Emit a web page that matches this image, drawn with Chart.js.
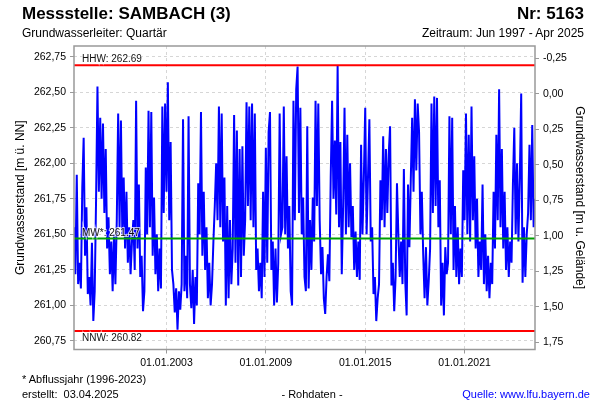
<!DOCTYPE html>
<html lang="de">
<head>
<meta charset="utf-8">
<title>Messstelle: SAMBACH (3)</title>
<script src="https://cdn.jsdelivr.net/npm/chart.js@4.4.1/dist/chart.umd.min.js"></script>
<style>
  body { margin: 0; background: #fff; font-family: "Liberation Sans", Arial, sans-serif; color: #000; }
  #wrap { position: relative; width: 600px; height: 400px; }
  #wrap canvas { position: absolute; left: 0; top: 0; }
  .txt { position: absolute; white-space: pre; line-height: 1; }
  .head { top: 5px; font-size: 17px; font-weight: bold; }
  .sub { top: 26.5px; font-size: 12px; }
  .foot { font-size: 11px; }
</style>
</head>
<body>
<div id="wrap">
  <canvas id="levelChart" width="600" height="400"></canvas>
  <div class="txt head" style="left: 22px;">Messstelle: SAMBACH (3)</div>
  <div class="txt head" style="right: 16px;">Nr: 5163</div>
  <div class="txt sub" style="left: 22px;">Grundwasserleiter: Quartär</div>
  <div class="txt sub" style="right: 16px;">Zeitraum: Jun 1997 - Apr 2025</div>
  <div class="txt foot" style="left: 22px; top: 374px;">* Abflussjahr (1996-2023)</div>
  <div class="txt foot" style="left: 22px; top: 389px;">erstellt:  03.04.2025</div>
  <div class="txt foot" style="left: 312px; top: 389px; transform: translateX(-50%);">- Rohdaten -</div>
  <div class="txt foot" style="right: 10px; top: 389px; color: #0000ff;">Quelle: www.lfu.bayern.de</div>
</div>
<script>
// Monthly groundwater levels [m ü. NN], first value = Jun 1997
const startYear = 1997;
const startMonth = 6;
const levels = [
    261.55, 261.22, 261.92, 261.15, 261.30, 261.12, 261.83,                          // 1997
    262.18, 261.35, 261.69, 261.08, 261.20, 261.00, 261.44, 260.89, 261.10, 261.75, 262.54, 261.80, // 1998
    262.32, 261.75, 262.28, 261.65, 262.10, 261.40, 261.62, 261.22, 261.45, 261.10, 261.50, 261.15, // 1999
    261.60, 262.35, 261.55, 262.30, 261.50, 261.90, 261.40, 261.80, 261.30, 261.55, 261.22, 261.45, // 2000
    261.60, 261.25, 262.44, 261.40, 261.85, 261.20, 261.35, 260.96, 261.10, 261.97, 261.50, 262.37, // 2001
    261.55, 262.36, 261.35, 261.76, 261.22, 261.50, 261.10, 261.40, 261.12, 262.40, 261.65, 262.42, // 2002
    261.80, 262.57, 261.60, 262.15, 261.25, 261.15, 260.95, 261.12, 260.83, 261.10, 260.97, 261.15, // 2003
    262.31, 261.10, 261.35, 261.05, 262.33, 261.15, 260.98, 261.25, 260.87, 261.20, 261.00, 261.86, // 2004
    261.50, 262.36, 261.35, 261.80, 261.25, 261.55, 261.05, 261.30, 261.00, 261.15, 261.45, 261.70, // 2005
    262.00, 261.60, 262.40, 261.55, 262.35, 261.45, 261.90, 261.00, 261.70, 261.05, 261.60, 261.15, // 2006
    261.40, 262.34, 261.30, 262.23, 261.14, 262.10, 261.20, 262.12, 261.35, 261.60, 262.43, 261.70, // 2007
    262.40, 261.60, 262.42, 261.55, 262.35, 261.25, 261.40, 261.10, 261.30, 261.05, 261.80, 261.20, // 2008
    262.11, 261.30, 262.22, 262.36, 261.25, 261.45, 261.00, 261.40, 261.02, 261.30, 262.35, 261.50, // 2009
    261.55, 262.40, 261.50, 262.05, 261.40, 261.70, 261.10, 261.00, 262.44, 261.60, 262.52, 262.68, // 2010
    261.65, 262.39, 261.50, 261.76, 261.20, 261.10, 262.26, 261.12, 261.60, 261.25, 261.76, 261.45, // 2011
    262.44, 261.70, 262.42, 261.60, 261.22, 261.41, 261.05, 260.94, 261.20, 261.36, 261.17, 261.90, // 2012
    262.44, 261.75, 262.16, 261.64, 262.69, 261.55, 262.15, 261.22, 261.70, 262.39, 261.50, 262.20, // 2013
    261.55, 262.00, 261.48, 261.70, 261.25, 261.52, 261.20, 261.45, 261.18, 262.13, 261.50, 261.90, // 2014
    262.39, 261.50, 261.90, 262.31, 261.45, 261.55, 261.08, 261.20, 260.89, 261.05, 261.15, 261.88, // 2015
    261.60, 262.19, 261.55, 262.10, 261.65, 262.06, 262.26, 261.14, 261.30, 260.96, 261.20, 261.86, // 2016
    261.50, 261.20, 261.45, 261.15, 261.96, 261.17, 260.93, 261.85, 261.41, 261.88, 262.32, 261.80, // 2017
    262.45, 261.95, 262.42, 262.22, 261.50, 261.80, 261.36, 261.05, 261.41, 261.00, 261.17, 261.40, // 2018
    262.42, 261.65, 262.47, 261.70, 262.46, 261.55, 261.88, 261.00, 261.30, 260.93, 261.41, 261.22, // 2019
    261.30, 262.33, 261.50, 262.32, 261.25, 261.70, 261.20, 261.55, 261.15, 261.40, 261.20, 261.95, // 2020
    261.60, 262.35, 261.50, 262.20, 261.45, 262.40, 261.60, 262.05, 261.40, 261.75, 261.20, 261.45, // 2021
    261.25, 261.85, 261.15, 261.50, 261.10, 261.35, 261.05, 261.30, 261.15, 261.80, 261.40, 262.20, // 2022
    261.60, 262.52, 261.55, 262.10, 261.40, 261.80, 261.25, 261.55, 261.20, 261.45, 261.30, 261.85, // 2023
    262.25, 261.50, 262.00, 261.45, 261.90, 262.49, 261.16, 261.55, 261.20, 261.50, 261.65, 262.13, // 2024
    261.60, 262.27, 261.55, 261.75                                                   // 2025
];

const levelTicks = [260.75, 261.00, 261.25, 261.50, 261.75, 262.00, 262.25, 262.50, 262.75];
const depthTicks = [-0.25, 0.00, 0.25, 0.50, 0.75, 1.00, 1.25, 1.50, 1.75];
const yearTicks = [2003, 2009, 2015, 2021];

// Main values (HHW, MW*, NNW)
const refNames = ['HHW', 'MW*', 'NNW'];
const refValues = [262.69, 261.47, 260.82];

// Ground level and visible range of the level axis
const groundLevel = 262.49;
const levelMin = 260.69;
const levelMax = 262.825;

const FONT = '"Liberation Sans", Arial, sans-serif';
const gridColor = '#d6d6d6';
const frameColor = '#999999';

document.addEventListener('DOMContentLoaded', () => {
    initChart();
});

function monthToYear(i) {
    return startYear + (startMonth - 1 + i) / 12;
}

function formatDe(v) {
    return v.toFixed(2).replace('.', ',');
}

// Labels for the main values + plot frame
const refLabelPlugin = {
    id: 'refLabels',
    afterDatasetsDraw(chart) {
        const { ctx, chartArea, scales } = chart;
        ctx.save();
        ctx.font = '10px ' + FONT;
        ctx.textAlign = 'left';
        ctx.textBaseline = 'alphabetic';
        ctx.setLineDash([]);
        refNames.forEach((name, i) => {
            const y = scales.y.getPixelForValue(refValues[i]);
            const ty = name === 'NNW' ? y + 10 : y - 3;
            const text = name + ': ' + refValues[i].toFixed(2);
            ctx.strokeStyle = 'rgba(255,255,255,0.7)';
            ctx.lineWidth = 2;
            ctx.strokeText(text, chartArea.left + 8, ty);
            ctx.fillStyle = '#111';
            ctx.fillText(text, chartArea.left + 8, ty);
        });
        ctx.strokeStyle = frameColor;
        ctx.lineWidth = 1.5;
        ctx.strokeRect(chartArea.left, chartArea.top,
            chartArea.right - chartArea.left, chartArea.bottom - chartArea.top);
        ctx.restore();
    }
};

function initChart() {
    Chart.defaults.font.family = FONT;
    Chart.defaults.font.size = 10.5;
    Chart.defaults.color = '#000';

    const xStart = monthToYear(0);
    const xEnd = monthToYear(levels.length - 1);
    const points = levels.map((v, i) => ({ x: monthToYear(i), y: v }));
    const refColors = ['#ff0000', '#00a000', '#ff0000'];

    const refSets = refValues.map((v, i) => ({
        label: refNames[i],
        data: [{ x: xStart, y: v }, { x: xEnd, y: v }],
        borderColor: refColors[i],
        borderWidth: 2,
        pointRadius: 0,
        yAxisID: 'y'
    }));

    const ctx = document.getElementById('levelChart').getContext('2d');
    new Chart(ctx, {
        type: 'line',
        data: {
            datasets: [
                ...refSets,
                {
                    label: 'Grundwasserstand',
                    data: points,
                    borderColor: '#0000ff',
                    borderWidth: 2,
                    pointRadius: 0,
                    tension: 0,
                    yAxisID: 'y'
                }
            ]
        },
        options: {
            responsive: false,
            animation: false,
            devicePixelRatio: 1,
            layout: { padding: { top: 46, left: 0, right: 0, bottom: 0 } },
            plugins: {
                legend: { display: false },
                tooltip: { enabled: false }
            },
            scales: {
                x: {
                    type: 'linear',
                    min: xStart,
                    max: xEnd,
                    afterBuildTicks: s => { s.ticks = yearTicks.map(v => ({ value: v })); },
                    afterFit: s => { s.height = 50.5; },
                    ticks: { callback: v => '01.01.' + v, padding: 3, maxRotation: 0, autoSkip: false },
                    grid: { color: gridColor, tickColor: frameColor, tickLength: 4 },
                    border: { display: false, dash: [3, 3] }
                },
                y: {
                    position: 'left',
                    min: levelMin,
                    max: levelMax,
                    afterBuildTicks: s => { s.ticks = levelTicks.map(v => ({ value: v })); },
                    afterFit: s => { s.width = 74; },
                    ticks: { callback: v => formatDe(v), padding: 4 },
                    grid: { color: gridColor, tickColor: frameColor, tickLength: 4 },
                    border: { display: false, dash: [3, 3] },
                    title: {
                        display: true,
                        text: 'Grundwasserstand [m ü. NN]',
                        font: { size: 12 },
                        padding: { top: 13.8, bottom: 0 }
                    }
                },
                y2: {
                    position: 'right',
                    reverse: true,
                    min: groundLevel - levelMax,
                    max: groundLevel - levelMin,
                    afterBuildTicks: s => { s.ticks = depthTicks.map(v => ({ value: v })); },
                    afterFit: s => { s.width = 65; },
                    ticks: { callback: v => formatDe(v), padding: 4 },
                    grid: { drawOnChartArea: false, tickColor: frameColor, tickLength: 4 },
                    border: { display: false },
                    title: {
                        display: true,
                        text: 'Grundwasserstand [m u. Gelände]',
                        font: { size: 12 },
                        padding: { top: 13.8, bottom: 0 }
                    }
                }
            }
        },
        plugins: [refLabelPlugin]
    });
}
</script>
</body>
</html>
